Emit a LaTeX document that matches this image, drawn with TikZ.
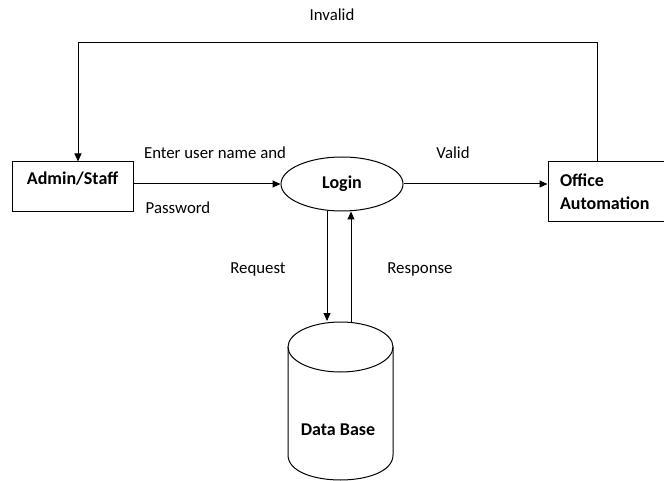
\documentclass[tikz,border=0pt]{standalone}
\usepackage{fontspec}
\setmainfont{Carlito}
\usetikzlibrary{shapes.geometric,arrows.meta}
\begin{document}
\begin{tikzpicture}[x=1pt,y=-1pt,
  box/.style={draw,line width=1pt,rectangle,font=\fontsize{18}{23}\selectfont\bfseries},
  lbl/.style={font=\fontsize{16.8}{19}\selectfont,inner sep=0pt},
  arr/.style={-{Triangle[length=8pt,width=7pt]},line width=1pt},
  ln/.style={line width=1pt}]
\useasboundingbox (0,0) rectangle (664,481);
% nodes
\node[box,minimum width=121pt,minimum height=50pt,text height=13pt,text depth=17pt,inner ysep=0pt] (admin) at (72.5,187) {Admin/Staff};
\node[ellipse,draw,line width=1pt,minimum width=122pt,minimum height=54pt,font=\fontsize{18}{21}\selectfont\bfseries] (login) at (342,184) {Login};
\node[box,minimum height=60pt,text width=98pt,inner xsep=12pt,inner ysep=2pt,align=left] (office) at (609,192) {Office\\Automation};
% database cylinder
\draw[ln] (340.5,347) ellipse [x radius=52.5,y radius=25];
\draw[ln] (288,347) -- (288,455) .. controls (288,488.33) and (393,488.33) .. (393,455) -- (393,347);
\node[font=\fontsize{18}{21}\selectfont\bfseries] (db) at (338,430) {Data Base};
\coordinate (reqend) at (327,321);
\coordinate (resstart) at (351,322);
\coordinate (top) at (0,43);
% labels
\node[lbl] (invalid) at (332,15) {Invalid};
\node[lbl] (enter) at (215,153) {Enter user name and};
\node[lbl] (pass) at (178,208) {Password};
\node[lbl] (valid) at (453,153) {Valid};
\node[lbl] (req) at (258,269) {Request};
\node[lbl] (resp) at (420,269) {Response};
% connectors
\draw[arr] (admin.east |- login) -- (login.west);
\draw[arr] (login.east) -- (login.east -| office.west);
\draw[arr] (login.south -| reqend) -- (reqend);
\draw[arr] (resstart) -- (resstart |- login.south);
\draw[arr] ([xshift=-12pt]office.north) -- ([xshift=-12pt]office.north |- top) -- ([xshift=5.5pt]admin.north |- top) -- ([xshift=5.5pt]admin.north);
\end{tikzpicture}
\end{document}
